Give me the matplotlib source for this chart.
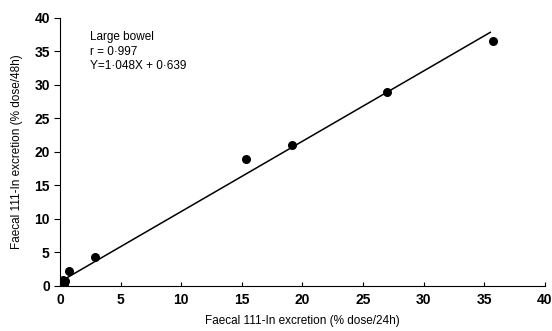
import numpy as np
import matplotlib.pyplot as plt

plt.rcParams['font.family'] = ['Liberation Sans', 'DejaVu Sans']

# faecal 111-In excretion, % dose at 24h vs 48h
x_24h = [0.1, 0.2, 0.3, 0.4, 0.2, 0.7, 2.9, 15.3, 19.1, 27.0, 35.7]
y_48h = [0.2, 0.6, 0.3, 0.8, 0.9, 2.2, 4.3, 19.0, 21.1, 29.0, 36.6]

slope = 1.048
intercept = 0.639
fit_x = [0.5, 35.5]

fig = plt.figure(figsize=(5.52, 3.31), dpi=100)
ax = fig.add_axes([0.109, 0.136, 0.878, 0.81])

ax.scatter(x_24h, y_48h, s=30, color='black', zorder=3)
fx = np.array(fit_x)
ax.plot(fx, slope * fx + intercept, color='black', lw=1.1)

ax.set_xlim(0, 40)
ax.set_ylim(0, 40)
ax.set_xticks(range(0, 41, 5))
ax.set_yticks(range(0, 41, 5))
ax.spines['top'].set_visible(False)
ax.spines['right'].set_visible(False)
ax.tick_params(axis='y', direction='out', length=4, labelsize=10)
ax.tick_params(axis='x', direction='in', length=3, labelsize=10, pad=5)
for lab in ax.get_xticklabels() + ax.get_yticklabels():
    lab.set_fontweight('bold')

ax.set_xlabel('Faecal 111-In excretion (% dose/24h)', fontsize=8.5, labelpad=6)
ax.set_ylabel('Faecal 111-In excretion (% dose/48h)', fontsize=8.5, labelpad=8)

ax.text(2.5, 38.0, 'Large bowel\nr = 0·997\nY=1·048X + 0·639',
        fontsize=8.5, va='top', ha='left', linespacing=1.25)

fig.savefig('out.png', dpi=100)
